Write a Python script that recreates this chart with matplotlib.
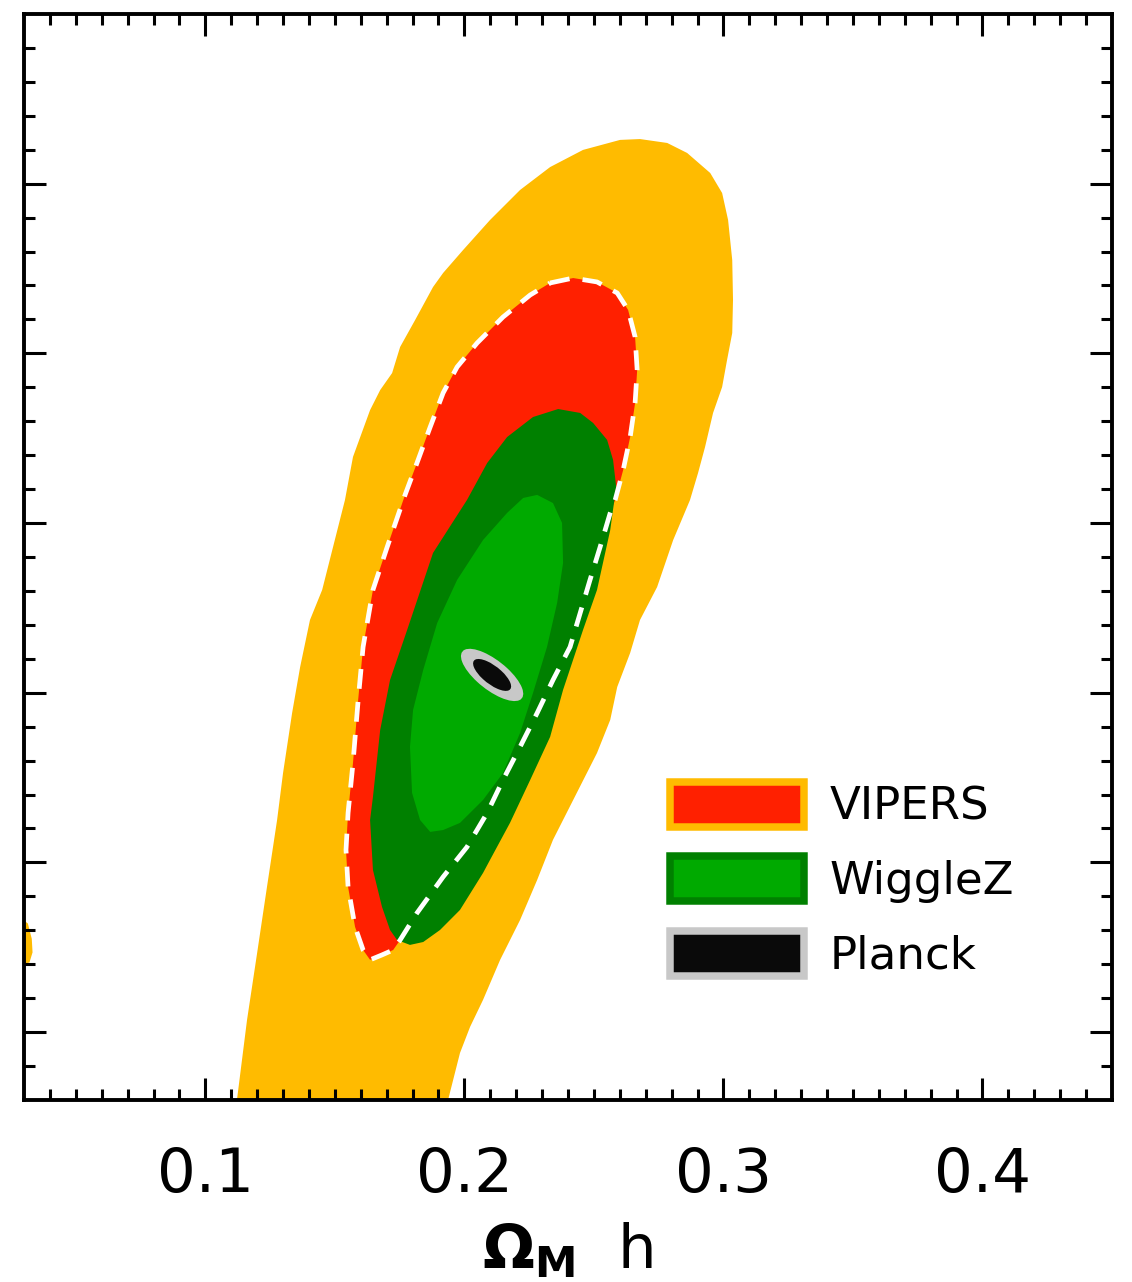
import numpy as np
import matplotlib
matplotlib.use('Agg')
import matplotlib.pyplot as plt
from matplotlib.patches import Ellipse, Patch

# contour outlines (x = Omega_M h, y = arbitrary, axis unlabelled)
vipers2_x = [0.1122, 0.1161, 0.1200, 0.1238, 0.1277, 0.1300, 0.1335, 0.1366, 0.1404, 0.1451,
             0.1493, 0.1539, 0.1570, 0.1636, 0.1675, 0.1721, 0.1752, 0.1810, 0.1879, 0.1918,
             0.1995, 0.2099, 0.2215, 0.2331, 0.2458, 0.2601, 0.2678, 0.2783, 0.2860, 0.2949,
             0.2995, 0.3018, 0.3034, 0.3037, 0.3034, 0.3014, 0.2995, 0.2960, 0.2929, 0.2902,
             0.2871, 0.2806, 0.2744, 0.2678, 0.2640, 0.2590, 0.2563, 0.2512, 0.2420, 0.2342,
             0.2281, 0.2215, 0.2138, 0.2072, 0.2022, 0.1983, 0.1937, 0.1930, 0.1110]
vipers2_y = [0.2600, 0.3072, 0.3467, 0.3856, 0.4250, 0.4527, 0.4881, 0.5152, 0.5429, 0.5606,
             0.5859, 0.6136, 0.6390, 0.6666, 0.6784, 0.6884, 0.7038, 0.7197, 0.7391, 0.7474,
             0.7609, 0.7786, 0.7963, 0.8098, 0.8199, 0.8258, 0.8263, 0.8240, 0.8181, 0.8063,
             0.7945, 0.7786, 0.7550, 0.7315, 0.7120, 0.6961, 0.6802, 0.6649, 0.6448, 0.6295,
             0.6136, 0.5900, 0.5623, 0.5429, 0.5235, 0.5034, 0.4840, 0.4645, 0.4368, 0.4133,
             0.3897, 0.3661, 0.3426, 0.3190, 0.3031, 0.2877, 0.2600, 0.2500, 0.2500]

# small 2-sigma island at the left edge
island_x = [0.0290, 0.0315, 0.0330, 0.0333, 0.0321, 0.0290]
island_y = [0.3670, 0.3640, 0.3550, 0.3470, 0.3410, 0.3400]

vipers1_x = [0.2331, 0.2420, 0.2512, 0.2590, 0.2632, 0.2659, 0.2667, 0.2659, 0.2640, 0.2613,
             0.2582, 0.2563, 0.2524, 0.2485, 0.2447, 0.2408, 0.2342, 0.2281, 0.2215, 0.2149,
             0.2088, 0.2010, 0.1918, 0.1817, 0.1752, 0.1725, 0.1682, 0.1636, 0.1609, 0.1578,
             0.1551, 0.1543, 0.1551, 0.1570, 0.1590, 0.1609, 0.1647, 0.1702, 0.1771, 0.1817,
             0.1868, 0.1918, 0.1972, 0.2049, 0.2149, 0.2254]
vipers1_y = [0.7415, 0.7444, 0.7421, 0.7356, 0.7256, 0.7097, 0.6902, 0.6708, 0.6507, 0.6313,
             0.6136, 0.6060, 0.5859, 0.5665, 0.5470, 0.5270, 0.5075, 0.4881, 0.4681, 0.4486,
             0.4292, 0.4091, 0.3915, 0.3702, 0.3543, 0.3484, 0.3455, 0.3426, 0.3484, 0.3620,
             0.3856, 0.4074, 0.4292, 0.4586, 0.4958, 0.5270, 0.5606, 0.5859, 0.6166, 0.6354,
             0.6566, 0.6767, 0.6920, 0.7061, 0.7214, 0.7344]

wigglez2_x = [0.2362, 0.2447, 0.2497, 0.2551, 0.2574, 0.2586, 0.2563, 0.2512, 0.2458, 0.2381,
              0.2331, 0.2254, 0.2176, 0.2099, 0.2072, 0.1983, 0.1906, 0.1841, 0.1790, 0.1740,
              0.1713, 0.1682, 0.1647, 0.1636, 0.1647, 0.1675, 0.1713, 0.1779, 0.1879, 0.2010,
              0.2088, 0.2165, 0.2265]
wigglez2_y = [0.6672, 0.6649, 0.6590, 0.6490, 0.6372, 0.6213, 0.5959, 0.5606, 0.5370, 0.5017,
              0.4740, 0.4486, 0.4233, 0.4015, 0.3938, 0.3720, 0.3602, 0.3531, 0.3514, 0.3543,
              0.3602, 0.3738, 0.3956, 0.4250, 0.4386, 0.4781, 0.5075, 0.5370, 0.5824, 0.6136,
              0.6354, 0.6507, 0.6625]

wigglez1_x = [0.2281, 0.2342, 0.2377, 0.2381, 0.2358, 0.2319, 0.2265, 0.2215, 0.2149, 0.2072,
              0.1983, 0.1918, 0.1868, 0.1829, 0.1798, 0.1790, 0.1802, 0.1841, 0.1895, 0.1972,
              0.2072, 0.2165, 0.2227]
wigglez1_y = [0.6166, 0.6118, 0.6001, 0.5765, 0.5529, 0.5270, 0.4999, 0.4763, 0.4527, 0.4368,
              0.4233, 0.4191, 0.4180, 0.4250, 0.4410, 0.4681, 0.4899, 0.5134, 0.5411, 0.5665,
              0.5900, 0.6060, 0.6148]

# Planck: gaussian ellipse
planck_centre = (0.2107, 0.5105)
planck_sigma = (0.00484, 0.0062)
planck_rho = -0.72
planck_dchi2 = [6.17, 2.30]

labels = ['VIPERS', 'WiggleZ', 'Planck']

c_orange = '#FFBB00'
c_red = '#FF2000'
c_dkgreen = '#008000'
c_ltgreen = '#00AA00'
c_grey = '#C8C8C8'
c_black = '#0A0A0A'

plt.rcParams['font.family'] = ['DejaVu Sans']

fig = plt.figure(figsize=(11.32, 12.82), dpi=100)
ax = fig.add_axes([24/1132, 182/1282, 1088/1132, 1086/1282])

ax.fill(vipers2_x, vipers2_y, color=c_orange, lw=0)
ax.fill(island_x, island_y, color=c_orange, lw=0)
ax.fill(vipers1_x, vipers1_y, color=c_red, lw=0)
ax.fill(wigglez2_x, wigglez2_y, color=c_dkgreen, lw=0)
ax.fill(wigglez1_x, wigglez1_y, color=c_ltgreen, lw=0)

sx, sy = planck_sigma
cov = np.array([[sx**2, planck_rho*sx*sy], [planck_rho*sx*sy, sy**2]])
vals, vecs = np.linalg.eigh(cov)
ang = np.degrees(np.arctan2(vecs[1, 1], vecs[0, 1]))
for k, col in zip(planck_dchi2, [c_grey, c_black]):
    ax.add_patch(Ellipse(planck_centre, 2*np.sqrt(k*vals[1]), 2*np.sqrt(k*vals[0]),
                         angle=ang, facecolor=col, edgecolor='none'))

# dashed outline of the VIPERS 1-sigma region
ax.plot(vipers1_x + vipers1_x[:1], vipers1_y + vipers1_y[:1], color='white', lw=3.4,
        dashes=(4.2, 2.8), solid_capstyle='butt', dash_capstyle='butt')

ax.set_xlim(0.03, 0.45)
ax.set_ylim(0.26, 0.90)
ax.set_xticks(np.arange(0.1, 0.41, 0.1))
ax.set_xticks(np.arange(0.04, 0.45, 0.01), minor=True)
ax.set_yticks(np.arange(0.3, 0.81, 0.1))
ax.set_yticks(np.arange(0.28, 0.90, 0.02), minor=True)
ax.set_xticklabels(['0.1', '0.2', '0.3', '0.4'])
ax.set_yticklabels([])
ax.tick_params(which='both', direction='in', top=True, right=True, width=2.2, color='black')
ax.tick_params(which='major', length=16, labelsize=44, pad=33)
ax.tick_params(which='minor', length=8)
for s in ax.spines.values():
    s.set_linewidth(2.8)
ax.set_xlabel(r'$\mathbf{\Omega_M}$  h', fontsize=44, labelpad=12)

handles = [Patch(facecolor=c_red, edgecolor=c_orange, linewidth=5.4),
           Patch(facecolor=c_ltgreen, edgecolor=c_dkgreen, linewidth=5.4),
           Patch(facecolor=c_black, edgecolor=c_grey, linewidth=5.4)]
ax.legend(handles, labels, loc='upper left', bbox_to_anchor=(0.594, 0.293), frameon=False,
          fontsize=32.5, handlelength=2.97, handleheight=1.15, handletextpad=0.55,
          labelspacing=0.62, borderpad=0, borderaxespad=0)

fig.savefig('out.png', dpi=100)
